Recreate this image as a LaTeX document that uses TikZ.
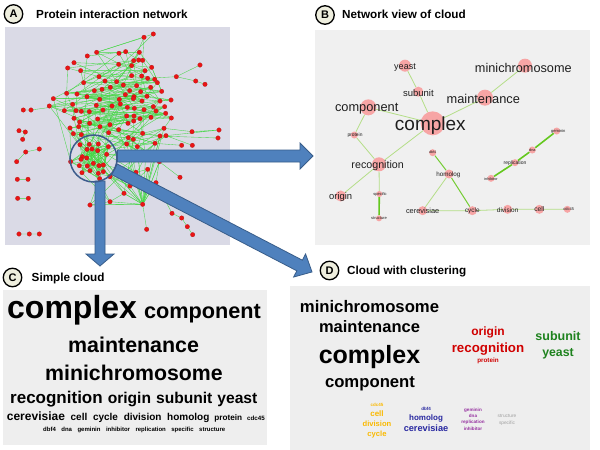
\documentclass[tikz,border=0pt]{standalone}
\usepackage{fontspec}
\setmainfont{Liberation Sans}
\usetikzlibrary{calc}
\definecolor{boxA}{RGB}{218,218,230}
\definecolor{boxB}{RGB}{240,240,240}
\definecolor{boxC}{RGB}{238,238,238}
\definecolor{dotred}{RGB}{235,20,20}
\definecolor{dotrim}{RGB}{170,20,20}
\definecolor{netgreen}{RGB}{70,215,70}
\definecolor{ringblue}{RGB}{60,92,140}
\definecolor{arrowfill}{RGB}{79,129,189}
\definecolor{arrowline}{RGB}{56,93,138}
\definecolor{bpink}{RGB}{247,165,165}
\definecolor{bthin}{RGB}{180,222,135}
\definecolor{bthick}{RGB}{100,200,30}
\definecolor{labfill}{RGB}{238,238,222}
\definecolor{labdark}{RGB}{30,30,30}
\definecolor{cred}{RGB}{208,0,0}
\definecolor{cgreen}{RGB}{30,130,30}
\definecolor{corange}{RGB}{250,185,0}
\definecolor{cblue}{RGB}{40,40,160}
\definecolor{cpurple}{RGB}{150,50,160}
\definecolor{cgray}{RGB}{160,160,160}
\newcommand{\fsz}[1]{\fontsize{#1}{#1}\selectfont}
\pgfdeclarelayer{back}
\pgfdeclarelayer{edges}
\pgfsetlayers{back,edges,main}
\begin{document}
\begin{tikzpicture}[x=1pt,y=-1pt,
  letterbox/.style={circle, draw=black, line width=1.3pt, fill=labfill, minimum size=18.5pt, inner sep=0pt, font=\bfseries\fsz{11}},
  paneltitle/.style={anchor=base west, inner sep=0pt, font=\bfseries\fsz{11.7}},
  ppidot/.style={circle, fill=dotred, draw=dotrim, line width=0.2pt, minimum size=4.5pt, inner sep=0pt},
  netedge/.style={draw=netgreen, line width=0.35pt},
  bnode/.style={circle, fill=bpink, inner sep=0pt, minimum size=#1},
  blab/.style={inner sep=0pt, text=labdark, font=\fsz{#1}},
  bthinedge/.style={draw=bthin, line width=0.8pt},
  bthickedge/.style={draw=bthick, line width=1.6pt},
  cw/.style={inner sep=0pt, anchor=base west, font=\bfseries, text=black},
  dw/.style={inner sep=0pt, anchor=base, font=\bfseries},
  pics/blockarrow/.style n args={4}{code={
    \pgfmathsetmacro{\bL}{#1}\pgfmathsetmacro{\bH}{#1-#4}
    \filldraw[fill=arrowfill, draw=arrowline, line width=0.8pt, line join=miter]
      (0pt,#2pt) -- (\bH pt,#2pt) -- (\bH pt,#3pt) -- (\bL pt,0pt) -- (\bH pt,-#3pt) -- (\bH pt,-#2pt) -- (0pt,-#2pt) -- cycle;
  }}
]
\useasboundingbox (0,0) rectangle (600,450);
\begin{pgfonlayer}{back}
  \fill[white] (0,0) rectangle (600,450);
  \fill[boxA] (5,27) rectangle (230,245);
  \fill[boxB] (315,30) rectangle (590,245);
  \fill[boxC] (3,290) rectangle (267,445);
  \fill[boxC] (290,286) rectangle (590,450);
\end{pgfonlayer}

% ---------- titles ----------
\node[letterbox] (labA) at (13.5,14) {A};
\node[paneltitle] (titA) at (36,18.5) {Protein interaction network};
\node[letterbox] (labB) at (325,15) {B};
\node[paneltitle] (titB) at (342,18.5) {Network view of cloud};
\node[letterbox] (labC) at (12.5,277.5) {C};
\node[paneltitle] (titC) at (31.5,281) {Simple cloud};
\node[letterbox] (labD) at (329.5,270.5) {D};
\node[paneltitle] (titD) at (347,274.5) {Cloud with clustering};

% ---------- A: protein network ----------
\begin{scope}[scale=1/3]
\foreach \n/\x/\y in {c1/432/112, c2/460/102, c3/290/157, c4/262/168, c5/357/160, c6/377/155, c7/418/157, c8/222/188, c9/401/182, c10/416/180, c11/428/181, c12/395/197, c13/356/193, c14/203/204, c15/242/212, c16/435/212, c17/455/202, c18/297/230, c19/425/228, c20/395/227, c21/443/235, c22/251/248, c23/315/243, c24/350/245, c25/464/238, c26/472/248, c27/370/255, c28/410/257, c29/283/272, c30/306/268, c31/331/262, c32/200/280, c33/231/282, c34/389/272, c35/422/275, c36/402/290, c37/485/274, c38/441/289, c39/452/262, c40/160/296, c41/261/290, c42/299/298, c43/358/298, c44/376/284, c45/400/296, c46/426/303, c47/480/303, c48/513/300, c49/148/318, c50/218/313, c51/193/332, c52/228/332, c53/244/334, c54/289/316, c55/336/318, c56/361/312, c57/382/322, c58/403/325, c59/432/329, c60/460/320, c61/468/333, c62/494/320, c63/222/355, c64/268/335, c65/309/330, c66/293/357, c67/380/348, c68/402/348, c69/420/356, c70/453/352, c71/497/340, c72/514/354, c73/239/366, c74/384/370, c75/401/363, c76/269/370, c77/300/380, c78/330/374, c79/210/384, c80/236/380, c81/356/389, c82/428/400, c83/492/385, c84/220/401, c85/244/404, c86/326/398, c87/385/413, c88/400/418, c89/480/408, c90/498/407, c91/465/430, c92/380/432, c93/412/440, c94/437/467, c95/478/485, c96/408/517, c97/443/508, c98/390/558, c99/468/548, c100/330/530, c101/372/580, c102/330/605, c103/270/615, c104/428/613,
 p1/529/230, p2/587/243, p3/615/253, p4/600/195, p5/576/395, p6/657/390, p7/654/414, p8/545/436, p9/577/436, p10/540/532, p11/516/640, p12/545/654, p13/562/680, p14/578/704, p15/440/688, p16/70/330, p17/93/330,
 i1/57/392, i2/76/396, i3/68/418, i4/118/447, i5/77/456, i6/50/485, i7/52/538, i8/84/538, i9/53/595, i10/85/595, i11/57/702, i12/88/702, i13/118/702,
 d1/240/434, d2/268/433, d3/295/432, d4/325/440, d5/261/448, d6/276/447, d7/247/470, d8/293/452, d9/320/463, d10/212/485, d11/243/478, d12/260/474, d13/280/490, d14/238/497, d15/262/498, d16/297/497, d17/310/495, d18/246/518, d19/270/512, d20/295/520, d21/310/515, d22/299/536}
  \node[ppidot] (\n) at (\x,\y) {};
\end{scope}

\begin{pgfonlayer}{edges}
\pgfmathsetseed{11}
\foreach \i in {1,...,104}{
  \pgfmathtruncatemacro{\ja}{min(104,\i+random(1,5))}
  \pgfmathtruncatemacro{\jb}{min(104,\i+random(7,22))}
  \pgfmathtruncatemacro{\jc}{min(104,\i+random(9,30))}
  \draw[netedge] (c\i) -- (c\ja) (c\i) -- (c\jb);
  \ifodd\i \draw[netedge] (c\i) -- (c\jc); \fi
}
\foreach \i in {1,...,22}{
  \pgfmathtruncatemacro{\ka}{mod(\i+random(1,8)-1,22)+1}
  \pgfmathtruncatemacro{\kb}{mod(\i+random(2,12)-1,22)+1}
  \pgfmathtruncatemacro{\kc}{mod(\i+random(4,18)-1,22)+1}
  \pgfmathtruncatemacro{\kd}{random(30,104)}
  \draw[netedge] (d\i)--(d\ka) (d\i)--(d\kb) (d\i)--(d\kc) (d\i)--(c\kd);
}
\draw[netedge] (d17)--(c96) (d21)--(c98) (d20)--(c100) (d22)--(c103) (d9)--(c95) (d4)--(c92)
  (d16)--(c101) (d18)--(c102) (d3)--(c85) (d1)--(c80) (d10)--(c79) (d2)--(c77)
  (d4)--(c87) (d9)--(c94) (d8)--(c91) (d6)--(c56) (d3)--(c43)
  (c21)--(p1) (p1)--(p4) (p1)--(p2) (p2)--(p3)
  (c83)--(p5) (p5)--(p6) (c90)--(p6) (c89)--(p7) (c91)--(p8) (c90)--(p9) (c95)--(p10)
  (c99)--(p11) (p11)--(p12) (p12)--(p13) (p13)--(p14) (c104)--(p15) (p16)--(p17) (p17)--(c50)
  (i1)--(i2) (i2)--(i3) (i4)--(i5) (i5)--(i6) (i7)--(i8) (i9)--(i10) (i11)--(i12) (i12)--(i13);
\end{pgfonlayer}

% ---------- block arrows and lens ----------
\coordinate (a1s) at (117.5,156);
\coordinate (a2s) at (100,181);
\coordinate (a3s) at (114.4,169.3);
\pic at (a1s) {blockarrow={195.5}{6}{13}{13}};
\pic[rotate=-90] at (a2s) {blockarrow={85}{5}{14}{12}};
\pic[rotate=-27.45] at (a3s) {blockarrow={222.7}{6}{13}{14}};
\node[circle, draw=ringblue, line width=1.5pt, minimum size=47pt, inner sep=0pt] (lens) at (93.5,158.5) {};

% ---------- B: network view of cloud ----------
\begin{scope}[shift={(300,0)},scale=1/3]
\node[bnode=12pt] (yeast) at (315,197) {};
\node[bnode=14pt] (minichromosome) at (675,197) {};
\node[bnode=10pt] (subunit) at (355,275) {};
\node[bnode=16pt] (maintenance) at (555,293) {};
\node[bnode=16pt] (component) at (205,322) {};
\node[bnode=24pt] (complex) at (398,370) {};
\node[bnode=7pt] (protein) at (163,405) {};
\node[bnode=14pt] (recognition) at (237,493) {};
\node[bnode=11pt] (origin) at (122,588) {};
\node[bnode=6pt] (specific) at (238,582) {};
\node[bnode=6pt] (structure) at (237,655) {};
\node[bnode=7pt] (dbf4) at (398,458) {};
\node[bnode=9pt] (homolog) at (447,522) {};
\node[bnode=9pt] (cerevisiae) at (368,632) {};
\node[bnode=9pt] (cycle) at (517,632) {};
\node[bnode=9pt] (division) at (623,628) {};
\node[bnode=9pt] (cell) at (718,628) {};
\node[bnode=7pt] (cdc45) at (802,628) {};
\node[bnode=7pt] (geminin) at (770,393) {};
\node[bnode=7pt] (dna) at (697,450) {};
\node[bnode=7pt] (replication) at (645,488) {};
\node[bnode=7pt] (inhibitor) at (573,535) {};
\node[blab=9] (yeast-t) at (315,204) {yeast};
\node[blab=12.7] (minichromosome-t) at (670,203) {minichromosome};
\node[blab=9.5] (subunit-t) at (355,280) {subunit};
\node[blab=12.8] (maintenance-t) at (550,298) {maintenance};
\node[blab=12.8] (component-t) at (200,326) {component};
\node[blab=19] (complex-t) at (391,376) {complex};
\node[blab=4.9] (protein-t) at (165,405) {protein};
\node[blab=10.7] (recognition-t) at (233,497) {recognition};
\node[blab=9.4] (origin-t) at (122,590) {origin};
\node[blab=4] (specific-t) at (240,583) {specific};
\node[blab=4] (structure-t) at (237,655) {structure};
\node[blab=3.6] (dbf4-t) at (398,458) {dbf4};
\node[blab=6.3] (homolog-t) at (445,524) {homolog};
\node[blab=7.4] (cerevisiae-t) at (368,634) {cerevisiae};
\node[blab=6.4] (cycle-t) at (517,632) {cycle};
\node[blab=6.4] (division-t) at (623,630) {division};
\node[blab=6.7] (cell-t) at (718,628) {cell};
\node[blab=4] (cdc45-t) at (806,628) {cdc45};
\node[blab=4.1] (geminin-t) at (775,393) {geminin};
\node[blab=3.8] (dna-t) at (697,450) {dna};
\node[blab=5] (replication-t) at (645,490) {replication};
\node[blab=3.8] (inhibitor-t) at (573,536) {inhibitor};
\end{scope}
\begin{pgfonlayer}{edges}
\draw[bthinedge] (yeast)--(subunit) (subunit)--(complex) (component)--(complex) (maintenance)--(complex)
  (maintenance)--(minichromosome) (component)--(protein) (protein)--(recognition) (complex)--(recognition)
  (recognition)--(origin) (recognition)--(specific) (homolog)--(cerevisiae) (cerevisiae)--(cycle)
  (cycle)--(division) (division)--(cell) (cell)--(cdc45);
\draw[draw=bthick!80!bthin, line width=1pt] (dbf4)--(homolog) (homolog)--(cycle);
\draw[bthickedge] (specific)--(structure) (geminin)--(dna) (dna)--(replication) (replication)--(inhibitor);
\end{pgfonlayer}

% ---------- C: simple cloud ----------
\node[cw] (cwl1) at (7,318) {{\fsz{32}complex}\hspace{7pt}{\fsz{21.7}component}};
\node[cw] (cwl2) at (68,352) {\fsz{21.4}maintenance};
\node[cw] (cwl3) at (45,380) {\fsz{21.3}minichromosome};
\node[cw] (cwl4) at (10,403) {{\fsz{17}recognition}\hspace{5pt}{\fsz{15.6}origin\hspace{5pt}subunit\hspace{5pt}yeast}};
\node[cw] (cwl5) at (6.7,420.7) {{\fsz{12}cerevisiae}\hspace{5.7pt}{\fsz{10}cell\hspace{5.7pt}cycle\hspace{5.7pt}division\hspace{5.7pt}homolog}\hspace{5pt}{\fsz{8.2}protein}\hspace{5pt}{\fsz{6.2}cdc45}};
\node[cw] (cwl6) at (43,431.7) {\fsz{6}dbf4\hspace{5.5pt}dna\hspace{5.5pt}geminin\hspace{5.5pt}inhibitor\hspace{5.5pt}replication\hspace{5.5pt}specific\hspace{5.5pt}structure};

% ---------- D: cloud with clustering ----------
\node[dw, text=black, font=\bfseries\fsz{16.7}] (dw1) at (369.5,312) {minichromosome};
\node[dw, text=black, font=\bfseries\fsz{16.5}] (dw2) at (369.5,332) {maintenance};
\node[dw, text=black, font=\bfseries\fsz{25}] (dw3) at (369.5,363) {complex};
\node[dw, text=black, font=\bfseries\fsz{16.7}] (dw4) at (370,387) {component};
\node[dw, text=cred, font=\bfseries\fsz{12}] (dw5) at (488,335) {origin};
\node[dw, text=cred, font=\bfseries\fsz{13.3}] (dw6) at (488,352) {recognition};
\node[dw, text=cred, font=\bfseries\fsz{6.3}] (dw7) at (488,362) {protein};
\node[dw, text=cgreen, font=\bfseries\fsz{12.5}] (dw8) at (558,340) {subunit};
\node[dw, text=cgreen, font=\bfseries\fsz{12.3}] (dw9) at (558,356) {yeast};
\node[dw, text=corange, font=\bfseries\fsz{4.5}] (dw10) at (377,406.5) {cdc45};
\node[dw, text=corange, font=\bfseries\fsz{8}] (dw11) at (377,416) {cell};
\node[dw, text=corange, font=\bfseries\fsz{7.6}] (dw12) at (377,426) {division};
\node[dw, text=corange, font=\bfseries\fsz{7.6}] (dw13) at (377,436) {cycle};
\node[dw, text=cblue, font=\bfseries\fsz{4.5}] (dw14) at (426,410) {dbf4};
\node[dw, text=cblue, font=\bfseries\fsz{8}] (dw15) at (426,420) {homolog};
\node[dw, text=cblue, font=\bfseries\fsz{9.2}] (dw16) at (426,431) {cerevisiae};
\node[dw, text=cpurple, font=\bfseries\fsz{4.6}] (dw17) at (473,411) {geminin};
\node[dw, text=cpurple, font=\bfseries\fsz{4.6}] (dw18) at (473,417) {dna};
\node[dw, text=cpurple, font=\bfseries\fsz{4.6}] (dw19) at (473,423.5) {replication};
\node[dw, text=cpurple, font=\bfseries\fsz{4.6}] (dw20) at (473,430) {inhibitor};
\node[dw, text=cgray, font=\fsz{4.8}] (dw21) at (507,417) {structure};
\node[dw, text=cgray, font=\fsz{4.8}] (dw22) at (507,424) {specific};
\end{tikzpicture}
\end{document}
